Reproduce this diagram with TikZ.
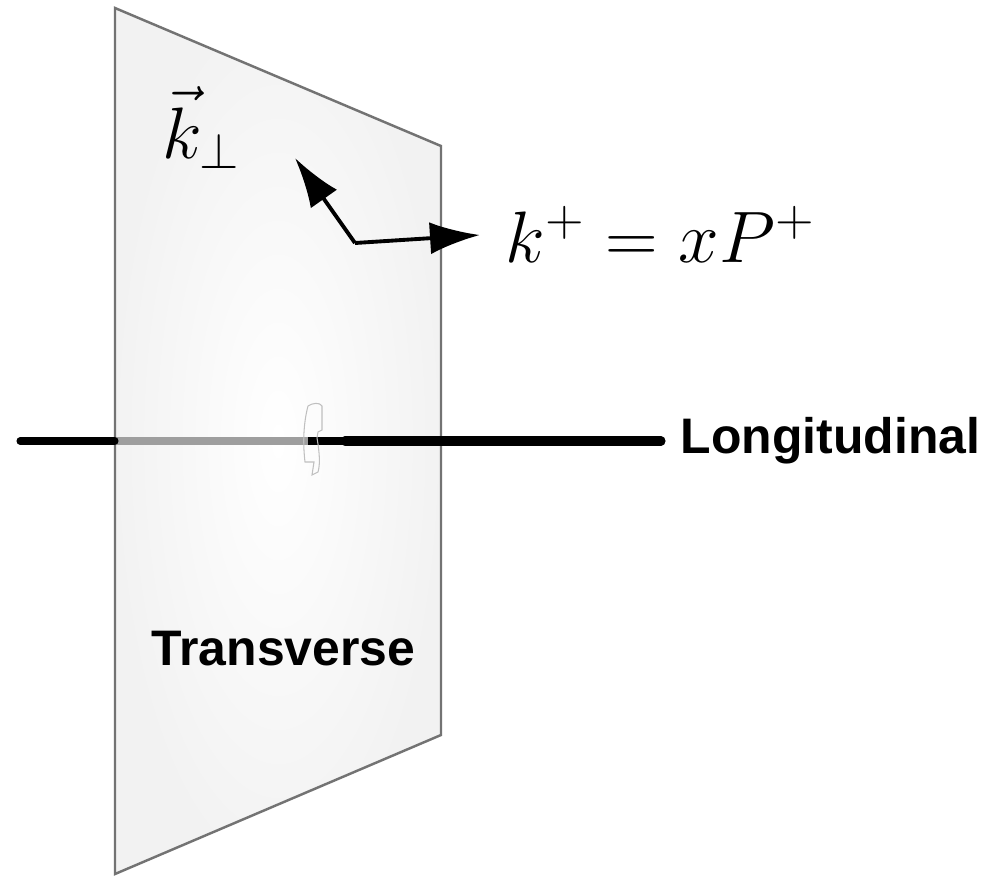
\documentclass[tikz,border=0pt]{standalone}
\usepackage{fontspec}
\newfontfamily\labelfont{Liberation Sans}
\usetikzlibrary{arrows.meta}
\tikzset{
  planeedge/.style={draw=black!55, line width=0.7pt},
  axisblack/.style={line width=2pt, draw=black},
  axisthick/.style={line width=2.6pt, draw=black},
  axisgray/.style={line width=2pt, draw=black!38},
  vecarrow/.style={line width=1.1pt, draw=black, -{Latex[length=0.5cm, width=0.32cm]}},
  boldlabel/.style={inner sep=0pt, font=\labelfont\bfseries\fontsize{14.2}{16}\selectfont},
  mathlabel/.style={inner sep=0pt, font=\huge},
}
\begin{document}
\begin{tikzpicture}
\useasboundingbox (0,0) rectangle (9.96,-8.80);
% plane
\coordinate (p1) at (1.15,-0.08);
\coordinate (p2) at (4.41,-1.46);
\coordinate (p3) at (4.41,-7.35);
\coordinate (p4) at (1.15,-8.74);
\shade[inner color=white, outer color=black!5] (p1) -- (p2) -- (p3) -- (p4) -- cycle;
\draw[planeedge] (p1) -- (p2) -- (p3) -- (p4) -- cycle;
% axis
\coordinate (a0) at (0.20,-4.41);
\coordinate (a1) at (1.15,-4.41);
\coordinate (a2) at (3.08,-4.41);
\coordinate (a3) at (3.45,-4.41);
\coordinate (a4) at (6.61,-4.41);
\draw[axisgray] (a1) -- (a2);
\draw[axisblack, line cap=round] (a0) -- (a1);
\draw[axisblack] (a2) -- (a3);
\draw[axisthick, line cap=round] (a3) -- (a4);
% faint ghost outline
\draw[black!25, line width=0.3pt] (3.08,-4.06) .. controls (3.12,-4.03) and (3.20,-4.02) .. (3.22,-4.06)
  -- (3.22,-4.30) -- (3.18,-4.32) -- (3.17,-4.38)
  .. controls (3.20,-4.55) and (3.20,-4.65) .. (3.18,-4.72)
  -- (3.12,-4.75) -- (3.14,-4.62) -- (3.05,-4.62)
  .. controls (3.03,-4.45) and (3.03,-4.25) .. (3.08,-4.06);
% momentum arrows
\coordinate (o) at (3.55,-2.43);
\coordinate (kt) at (2.95,-1.58);
\coordinate (kp) at (4.80,-2.35);
\draw[vecarrow, line join=round] (o) -- (kt);
\draw[vecarrow] (o) -- (kp);
% labels
\node[mathlabel, anchor=base west] (lkt) at (1.62,-1.58) {$\vec{k}_\perp$};
\node[mathlabel, anchor=base west] (lkp) at (5.05,-2.62) {$k^+ = xP^+$};
\node[boldlabel, anchor=base west] (llong) at (6.80,-4.53) {Longitudinal};
\node[boldlabel, anchor=base west] (ltrans) at (1.51,-6.65) {Transverse};
\end{tikzpicture}
\end{document}
